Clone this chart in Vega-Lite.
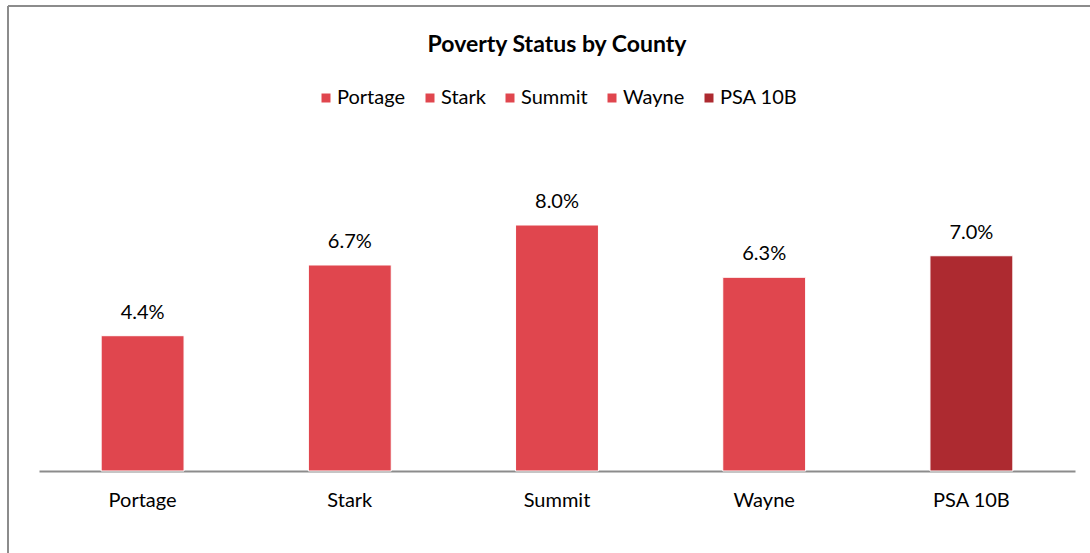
{
  "$schema": "https://vega.github.io/schema/vega-lite/v6.json",
  "autosize": "none",
  "width": 1082,
  "height": 547,
  "padding": {"left": 8, "top": 6, "right": 0, "bottom": 0},
  "background": "white",
  "title": {"text": "Poverty Status by County", "font": "Lato", "fontSize": 23, "fontWeight": "bold", "color": "#000000", "anchor": "middle", "frame": "group", "offset": -51, "dx": 8},
  "data": {"values": [
    {"county": "Portage", "rate": 0.044},
    {"county": "Stark", "rate": 0.067},
    {"county": "Summit", "rate": 0.080},
    {"county": "Wayne", "rate": 0.063},
    {"county": "PSA 10B", "rate": 0.070}
  ]},
  "encoding": {
    "x": {"field": "county", "type": "nominal", "sort": null,
      "scale": {"paddingInner": 0.6, "paddingOuter": 0.3, "range": [31, 1067]},
      "axis": {"title": null, "labelAngle": 0, "ticks": false, "offset": -82, "domainColor": "#8c8c8c", "domainWidth": 2, "labelFont": "Lato", "labelFontSize": 20, "labelColor": "#000000", "labelPadding": 19}},
    "y": {"field": "rate", "type": "quantitative", "scale": {"domain": [0, 0.1109], "range": [465, 124]}, "axis": null}
  },
  "layer": [
    {"mark": {"type": "bar", "stroke": "white", "strokeWidth": 1},
     "encoding": {"color": {"field": "county", "type": "nominal", "sort": null,
        "scale": {"domain": ["Portage", "Stark", "Summit", "Wayne", "PSA 10B"], "range": ["#E0464E", "#E0464E", "#E0464E", "#E0464E", "#AD2A30"]},
        "legend": {"title": null, "orient": "none", "direction": "horizontal", "legendX": 308, "legendY": 82, "symbolType": "square", "symbolSize": 81, "symbolStrokeWidth": 0, "labelFont": "Lato", "labelFontSize": 20, "labelColor": "#000000", "columnPadding": 14, "labelOffset": 1}}}},
    {"mark": {"type": "text", "font": "Lato", "fontSize": 20, "color": "#000000", "baseline": "alphabetic", "dy": -17},
     "encoding": {"text": {"field": "rate", "type": "quantitative", "format": ".1%"}}}
  ],
  "config": {"view": {"stroke": "#8c8c8c", "strokeWidth": 2, "strokeDash": [1082, 1629, 547, 0]}}
}
